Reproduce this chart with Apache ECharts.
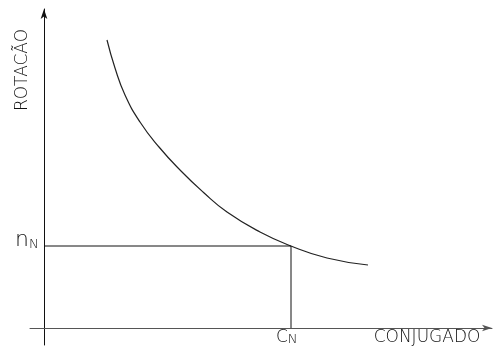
<!DOCTYPE html>
<html>
<head>
<meta charset="utf-8">
<script src="https://cdn.jsdelivr.net/npm/echarts@6/dist/echarts.min.js"></script>
<style>html,body{margin:0;padding:0;background:#fff}#c{width:493px;height:353px}</style>
</head>
<body>
<div id="c"></div>
<script>
// Torque (x) vs speed (y), in arbitrary units
const curveX = [63, 71, 81, 96, 115, 137, 159, 183, 216, 247, 283, 324];
const curveY = [288, 260, 233, 206, 181, 157, 136, 116, 96, 82, 70, 63];
const ratedC = 247;   // C_N
const ratedN = 82;    // n_N
const xLabel = 'CONJUGADO';
const yLabel = 'ROTACÃO';

const font = '"DejaVu Sans", sans-serif';
const chart = echarts.init(document.getElementById('c'));
chart.setOption({
  animation: false,
  backgroundColor: '#fff',
  grid: { left: 30, right: 1, top: 9, bottom: 8 },
  xAxis: {
    type: 'value', min: -14, max: 448,
    axisLine: { onZero: true, symbol: ['none', 'arrow'], symbolSize: [5, 10],
      lineStyle: { color: '#555', width: 1 } },
    axisTick: { show: false }, axisLabel: { show: false }, splitLine: { show: false }
  },
  yAxis: {
    type: 'value', min: -17, max: 319,
    axisLine: { onZero: true, symbol: ['none', 'arrow'], symbolSize: [5, 10],
      lineStyle: { color: '#111', width: 1 } },
    axisTick: { show: false }, axisLabel: { show: false }, splitLine: { show: false }
  },
  series: [
    {
      type: 'line', smooth: 0.5, symbol: 'none',
      lineStyle: { color: '#222', width: 1.2 },
      data: curveX.map((x, i) => [x, curveY[i]])
    },
    {
      type: 'line', symbol: 'none',
      lineStyle: { color: '#111', width: 1 },
      data: [[0, ratedN], [ratedC, ratedN], [ratedC, 0]]
    }
  ],
  graphic: [
    { type: 'text', x: 23, y: 70, rotation: Math.PI / 2,
      style: { text: yLabel, font: '200 17px ' + font, fill: '#111', textAlign: 'center', textVerticalAlign: 'middle' } },
    { type: 'text', x: 427, y: 338,
      style: { text: xLabel, font: '200 17px ' + font, fill: '#111', textAlign: 'center', textVerticalAlign: 'middle' } },
    { type: 'text', x: 15, y: 240,
      style: { text: '{a|n}{b|N}', textVerticalAlign: 'middle',
        rich: { a: { font: '200 22px ' + font, fill: '#111' }, b: { font: '200 13px ' + font, fill: '#111', verticalAlign: 'bottom', padding: [8, 0, 0, 0] } } } },
    { type: 'text', x: 276, y: 338,
      style: { text: '{a|C}{b|N}', textVerticalAlign: 'middle',
        rich: { a: { font: '200 17px ' + font, fill: '#111' }, b: { font: '200 13px ' + font, fill: '#111', verticalAlign: 'bottom', padding: [4, 0, 0, 0] } } } }
  ]
});
</script>
</body>
</html>
